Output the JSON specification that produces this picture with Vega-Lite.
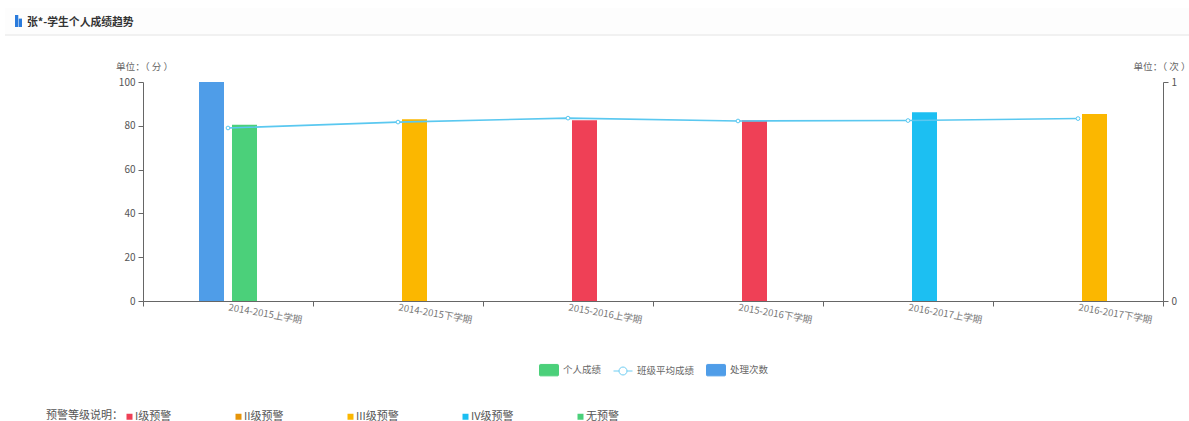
{
"$schema":"https://vega.github.io/schema/vega-lite/v6.json",
"width":1184,"height":421,
"autosize":{"type":"none"},
"padding":{"left":5,"top":0,"right":0,"bottom":0},
"background":"white",
"config":{"view":{"stroke":null},"font":"Noto Sans CJK SC"},
"title":{"text":"张*-学生个人成绩趋势","anchor":"start","frame":"group","dx":22,"dy":32,"fontSize":10.8,"fontWeight":"bold","color":"#333333","font":"Noto Sans CJK SC"},
"data":{"values":[
{"term":"2014-2015上学期","series":"处理次数","value":1},
{"term":"2014-2015上学期","series":"个人成绩","value":80.5,"level":"无预警"},
{"term":"2014-2015下学期","series":"个人成绩","value":83,"level":"III级预警"},
{"term":"2015-2016上学期","series":"个人成绩","value":82.5,"level":"I级预警"},
{"term":"2015-2016下学期","series":"个人成绩","value":82.5,"level":"I级预警"},
{"term":"2016-2017上学期","series":"个人成绩","value":86.2,"level":"IV级预警"},
{"term":"2016-2017下学期","series":"个人成绩","value":85.4,"level":"III级预警"},
{"term":"2014-2015上学期","series":"班级平均成绩","value":79},
{"term":"2014-2015下学期","series":"班级平均成绩","value":81.7},
{"term":"2015-2016上学期","series":"班级平均成绩","value":83.5},
{"term":"2015-2016下学期","series":"班级平均成绩","value":82.2},
{"term":"2016-2017上学期","series":"班级平均成绩","value":82.4},
{"term":"2016-2017下学期","series":"班级平均成绩","value":83.3}
]},
"resolve":{"scale":{"x":"independent","y":"independent","fill":"independent","stroke":"independent","shape":"independent"},"axis":{"x":"independent","y":"independent"},"legend":{"fill":"independent"}},
"layer":[
{"data":{"values":[{"band":"top","from":0,"to":1}]},
 "mark":{"type":"rect","fill":"#fdfdfd"},
 "encoding":{"y":{"field":"from","type":"quantitative","scale":{"domain":[0,1],"range":[35,8]},"axis":null},"y2":{"field":"to"}}},
{"data":{"values":[{"line":0}]},
 "mark":{"type":"rule","color":"#e4e4e4","strokeWidth":1},
 "encoding":{"y":{"field":"line","type":"quantitative","scale":{"domain":[0,1],"range":[35,8]},"axis":null}}},
{"data":{"values":[{"bar":"a","top":1},{"bar":"b","top":0.7}]},
 "mark":{"type":"bar","fill":"#2a7bdc"},
 "encoding":{
  "x":{"field":"bar","type":"nominal","scale":{"type":"band","domain":["a","b"],"range":[10,17],"paddingInner":0.12,"paddingOuter":0},"axis":null},
  "y":{"field":"top","type":"quantitative","scale":{"domain":[0,1],"range":[27,15]},"axis":null}}},
{"transform":[{"filter":"datum.series==='处理次数'"}],
 "mark":{"type":"bar","fill":"#4f9de8"},
 "encoding":{
  "x":{"field":"term","type":"nominal","scale":{"type":"band","range":[138,1158],"paddingInner":0,"paddingOuter":0},"axis":null},
  "xOffset":{"field":"series","type":"nominal","scale":{"domain":["处理次数","个人成绩"],"range":[56,114],"paddingInner":0.2424,"paddingOuter":0}},
  "y":{"field":"value","type":"quantitative","scale":{"domain":[0,1],"range":[301,82]},
   "axis":{"orient":"right","offset":-26,"values":[0,1],"format":"d","grid":false,"domainColor":"#666666","tickColor":"#666666","tickSize":5,"labelColor":"#555555","labelFontSize":10,"labelPadding":3,
    "title":"单位：（ 次 ）","titleAngle":0,"titleAlign":"center","titleBaseline":"middle","titleX":-1.5,"titleY":66,"titleFontSize":9.6,"titleFontWeight":"normal","titleColor":"#666666"}}}},
{"transform":[{"filter":"datum.series==='个人成绩'"}],
 "mark":{"type":"bar"},
 "encoding":{
  "x":{"field":"term","type":"nominal","scale":{"type":"band","range":[138,1158],"paddingInner":0,"paddingOuter":0},
   "axis":{"orient":"bottom","offset":-120,"tickBand":"extent","title":null,"labelAngle":10,"labelAlign":"left","labelBaseline":"middle","labelPadding":1,"labelFontSize":9.6,"labelColor":"#777777","labelLimit":200,"labelOverlap":false,"grid":false,"domainColor":"#666666","tickColor":"#666666","tickSize":5}},
  "xOffset":{"field":"series","type":"nominal","scale":{"domain":["处理次数","个人成绩"],"range":[56,114],"paddingInner":0.2424,"paddingOuter":0}},
  "y":{"field":"value","type":"quantitative","scale":{"domain":[0,100],"range":[301,82]},
   "axis":{"orient":"left","offset":-138,"values":[0,20,40,60,80,100],"grid":false,"domainColor":"#666666","tickColor":"#666666","tickSize":5,"labelColor":"#555555","labelFontSize":10,"labelPadding":3,
    "title":"单位：（ 分 ）","titleAngle":0,"titleAlign":"center","titleBaseline":"middle","titleX":1,"titleY":66,"titleFontSize":9.6,"titleFontWeight":"normal","titleColor":"#666666"}},
  "fill":{"field":"level","type":"nominal","scale":{"domain":["I级预警","II级预警","III级预警","IV级预警","无预警"],"range":["#ef4056","#e6950a","#fbb700","#1cbff2","#4bd07a"]},
   "legend":{"orient":"none","legendX":41,"legendY":411,"direction":"horizontal","columns":5,"columnPadding":61,"title":"预警等级说明：","titleOrient":"left","titleFontSize":11,"titleFontWeight":"normal","titleColor":"#555555","titlePadding":1,"titleBaseline":"middle","labelFontSize":11,"labelColor":"#555555","labelOffset":0,"labelLimit":300,"symbolType":"square","symbolSize":36,"symbolStrokeWidth":0}}}},
{"transform":[{"filter":"datum.series==='班级平均成绩'"}],
 "mark":{"type":"line","stroke":"#5ac8f0","strokeWidth":1.6},
 "encoding":{
  "x":{"field":"term","type":"nominal","scale":{"type":"band","range":[138,1158],"paddingInner":0,"paddingOuter":0},"axis":null},
  "y":{"field":"value","type":"quantitative","scale":{"domain":[0,100],"range":[301,82]},"axis":null}}},
{"transform":[{"filter":"datum.series==='班级平均成绩'"}],
 "mark":{"type":"point","filled":true,"fill":"white","stroke":"#5ac8f0","strokeWidth":1,"size":14,"opacity":1},
 "encoding":{
  "x":{"field":"term","type":"nominal","scale":{"type":"band","range":[138,1158],"paddingInner":0,"paddingOuter":0},"axis":null},
  "y":{"field":"value","type":"quantitative","scale":{"domain":[0,100],"range":[301,82]},"axis":null}}},
{"mark":{"type":"point","filled":true,"size":0,"strokeWidth":0,"opacity":1},
 "encoding":{
  "fill":{"field":"series","type":"nominal","scale":{"domain":["个人成绩","班级平均成绩","处理次数"],"range":["#4bd07a","#ffffff","#4f9de8"]},
   "legend":{"orient":"none","legendX":534,"legendY":360,"direction":"horizontal","columns":3,"columnPadding":9,"title":null,"labelFontSize":9.5,"labelColor":"#666666","labelOffset":4,"symbolSize":361,"symbolOpacity":1,"symbolStrokeWidth":1}},
  "stroke":{"field":"series","type":"nominal","scale":{"domain":["个人成绩","班级平均成绩","处理次数"],"range":["#4bd07a","#6ecdf2","#4f9de8"]}},
  "shape":{"field":"series","type":"nominal","scale":{"domain":["个人成绩","班级平均成绩","处理次数"],"range":["M-0.9,-0.6H0.9A0.1,0.1 0 0 1 1,-0.5V0.5A0.1,0.1 0 0 1 0.9,0.6H-0.9A0.1,0.1 0 0 1 -1,0.5V-0.5A0.1,0.1 0 0 1 -0.9,-0.6Z","M-1,0H-0.42M0.42,0H1M-0.42,0A0.42,0.42 0 1 1 0.42,0A0.42,0.42 0 1 1 -0.42,0Z","M-0.9,-0.6H0.9A0.1,0.1 0 0 1 1,-0.5V0.5A0.1,0.1 0 0 1 0.9,0.6H-0.9A0.1,0.1 0 0 1 -1,0.5V-0.5A0.1,0.1 0 0 1 -0.9,-0.6Z"]}}}}
]
}
